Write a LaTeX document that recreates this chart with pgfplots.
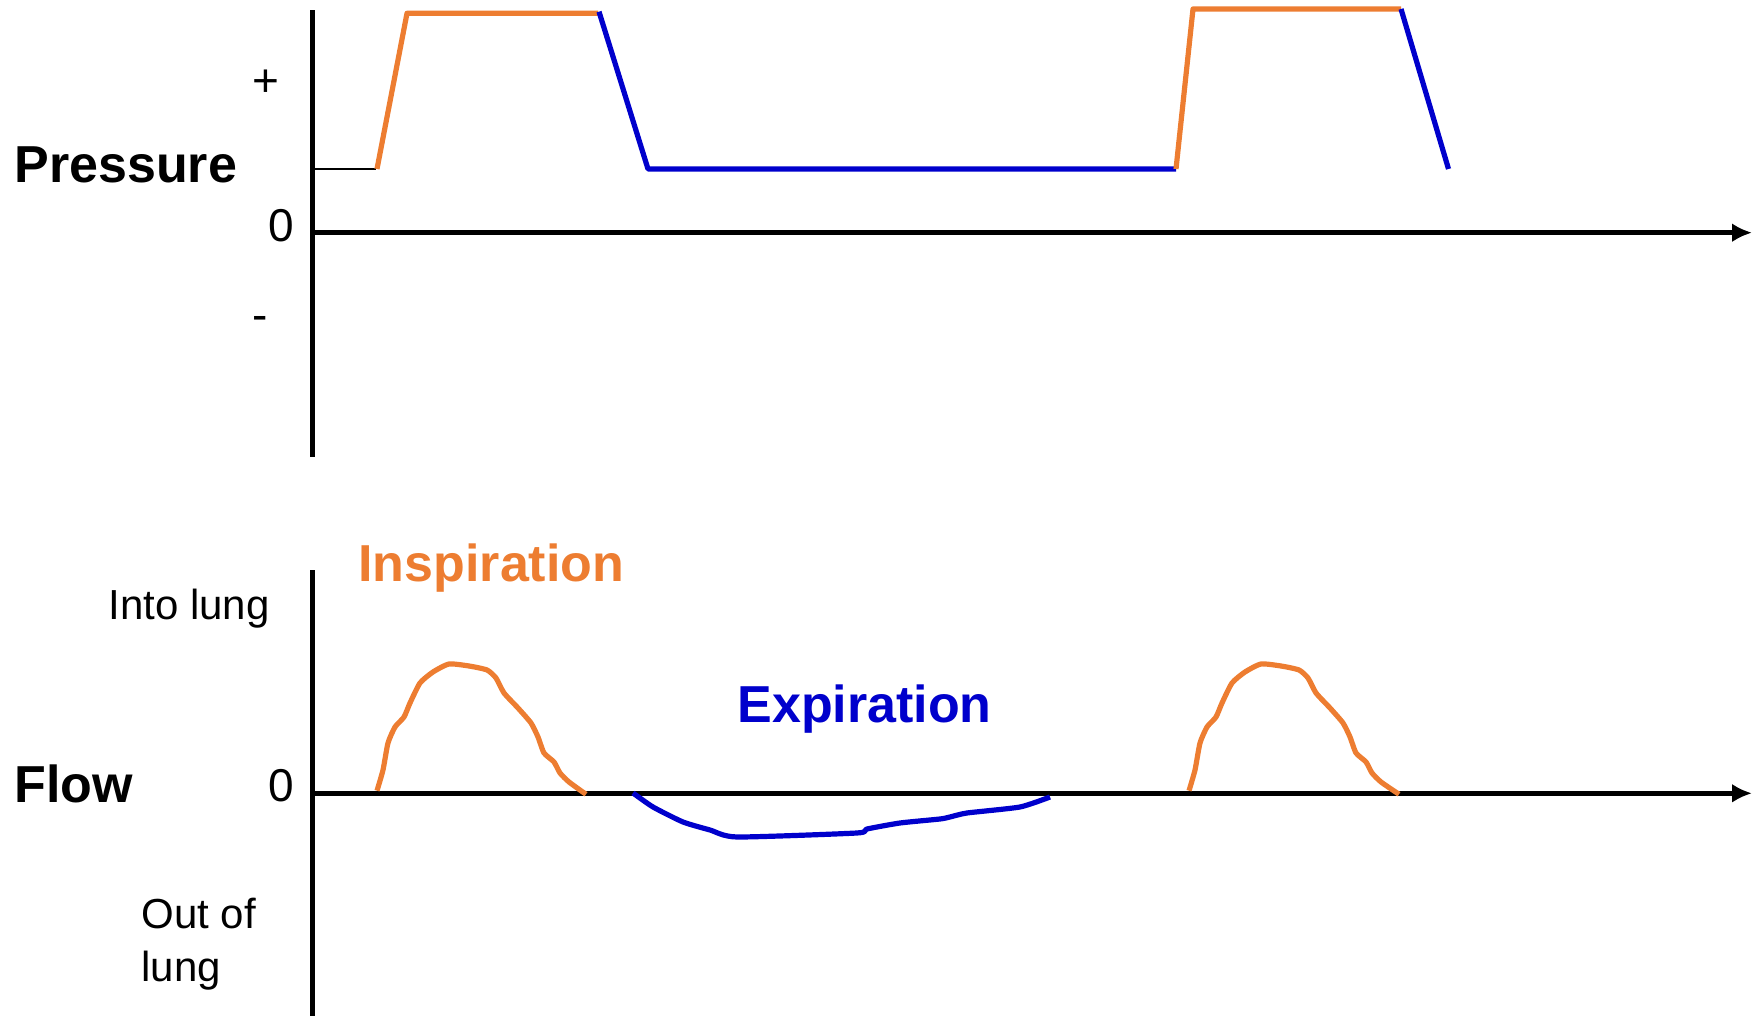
\documentclass[border=0pt]{standalone}
\usepackage{fontspec}
\setmainfont{Liberation Sans}
\usepackage{pgfplots}
\pgfplotsset{compat=1.18}
\usetikzlibrary{arrows.meta}
\definecolor{insp}{HTML}{ED7D31}
\definecolor{expc}{HTML}{0000CC}

\begin{document}
\begin{tikzpicture}
\path[use as bounding box] (0,0) rectangle (880pt,508pt);
\pgfplotsset{panel/.style={
  x=0.5pt, y=0.5pt, xmin=312.5, xmax=1752,
  axis x line=middle, axis y line=left,
  xtick=\empty, ytick=\empty,
  x axis line style={line width=2.5pt, -{Latex[length=10pt,width=9.5pt]}},
  y axis line style={line width=2.5pt, -},
  clip=false, anchor=south west,
}}
% Pressure panel
\begin{axis}[panel, ymin=-224.3, ymax=222.7, at={(156.25pt,279.5pt)}]
\addplot[black, line width=0.6pt] coordinates {(312.5,63.7) (376,63.7)};
\addplot[insp, line width=2.6pt, line join=round] coordinates {(377,63.7) (407,219.4) (598,219.4)};
\addplot[expc, line width=2.6pt, line join=round] coordinates {(599,221) (648,63.7) (1176,63.7)};
\addplot[insp, line width=2.6pt, line join=round] coordinates {(1176,63.7) (1193,223.7) (1401,223.7)};
\addplot[expc, line width=2.6pt, line join=round] coordinates {(1401,223.7) (1448.5,63.7)};
\end{axis}
% Flow panel
\begin{axis}[panel, ymin=-222.7, ymax=223.3, at={(156.25pt,0pt)}]
\addplot[insp, line width=2.6pt, line join=round, smooth, tension=0.35] coordinates {
(377,2.6) (383,23.3) (388,50.3) (395,66.3) (404,76.3) (410,90.3) (420,110.3)
(433,121.3) (449,129.3) (469,127.3) (487,123.3) (496,115.3) (504,100.3)
(518,85.3) (531,70.3) (538,56.3) (544,40.3) (554,31.3) (560,20.3) (569,11.3) (586,-1)};
\addplot[insp, line width=2.6pt, line join=round, smooth, tension=0.35] coordinates {
(1189,2.6) (1195,23.3) (1200,50.3) (1207,66.3) (1216,76.3) (1222,90.3) (1232,110.3)
(1245,121.3) (1261,129.3) (1281,127.3) (1299,123.3) (1308,115.3) (1316,100.3)
(1330,85.3) (1343,70.3) (1350,56.3) (1356,40.3) (1366,31.3) (1372,20.3) (1381,11.3) (1399,-1)};
\addplot[expc, line width=2.6pt, line join=round, smooth, tension=0.35] coordinates {
(633,0.3) (653,-13.7) (683,-28.7) (710,-36.7) (737,-43.7) (857,-39.7) (867,-35.7)
(900,-29.7) (940,-25.7) (950,-23.7) (967,-19.7) (1020,-13.7) (1050,-3.7)};
\end{axis}
% Labels (pixel coordinates)
\begin{scope}[x=0.5pt,y=-0.5pt,yshift=508pt, every node/.style={inner sep=0pt}]
\node[anchor=base west, font=\bfseries\fontsize{26}{30}\selectfont] at (14,183) {Pressure};
\node[font=\fontsize{23}{27}\selectfont] at (266,83) {+};
\node[anchor=base, font=\fontsize{23}{27}\selectfont] at (281,242) {0};
\node[font=\fontsize{23}{27}\selectfont] at (260,324) {-};
\node[anchor=base west, font=\bfseries\fontsize{26}{30}\selectfont] at (14,803) {Flow};
\node[anchor=base, font=\fontsize{23}{27}\selectfont] at (281,802) {0};
\node[anchor=base east, font=\fontsize{21}{25}\selectfont] at (270,620) {Into lung};
\node[anchor=base west, font=\fontsize{21}{25}\selectfont] at (141,929) {Out of};
\node[anchor=base west, font=\fontsize{21}{25}\selectfont] at (141,982) {lung};
\node[anchor=base west, text=insp, font=\bfseries\fontsize{26}{30}\selectfont] at (358,582) {Inspiration};
\node[anchor=base west, text=expc, font=\bfseries\fontsize{26}{30}\selectfont] at (737,723) {Expiration};
\end{scope}
\end{tikzpicture}
\end{document}
